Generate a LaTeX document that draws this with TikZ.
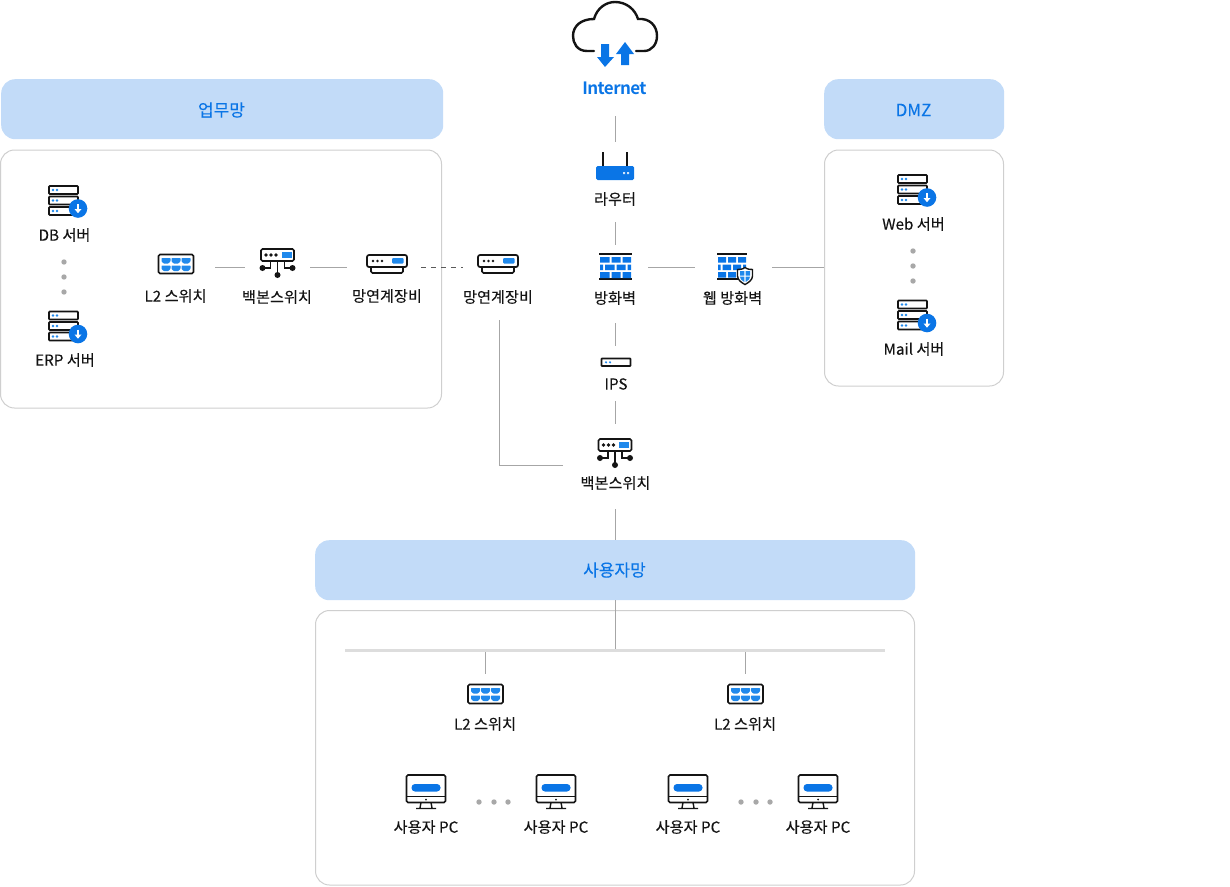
\documentclass[tikz,border=0pt]{standalone}
\usepackage{fontspec}
\setmainfont[FakeBold=0.12]{Noto Sans CJK KR}
\newfontfamily\inetfont[LetterSpace=-3.5]{Noto Sans CJK KR Bold}
\usetikzlibrary{calc}
\definecolor{bl}{HTML}{0A75E6}
\definecolor{hd}{HTML}{C2DBF8}
\definecolor{bd}{HTML}{CFCFCF}
\definecolor{cn}{HTML}{A6A6A6}
\definecolor{dt}{HTML}{A8A8A8}
\definecolor{ink}{HTML}{141414}
\definecolor{sb}{HTML}{2089EC}
\tikzset{
 x=1pt,y=-1pt,
 header/.style={draw=none,fill=hd,rounded corners=14pt},
 panel/.style={draw=bd,line width=1pt,fill=white,rounded corners=14pt},
 conn/.style={draw=cn,line width=1pt},
 hdtxt/.style={text=bl,font=\fontsize{17}{20}\selectfont,inner sep=0pt},
 lab/.style={text=ink,font=\fontsize{15.2}{18}\selectfont,inner sep=0pt},
 ic/.style={draw=ink,line width=1.7pt,fill=white},
 gdot/.style={fill=dt,draw=none},
 pics/server/.style={code={
  \foreach \yy in {-14.5,-4,6.5}{
   \draw[ic,rounded corners=0.8pt] (-15,\yy) rectangle (14,\yy+8);
   \fill[sb] (-11,\yy+4) circle (1.3) (-7,\yy+4) circle (1.3);
  }
  \fill[bl] (14,8) circle (9.3);
  \draw[white,line width=1.8pt] (14,3.5) -- (14,9);
  \fill[white] (10.5,8.5) -- (17.5,8.5) -- (14,12.7) -- cycle;
 }},
 pics/lswitch/.style={code={
  \draw[ic,rounded corners=1.5pt] (-17.5,-9.5) rectangle (17.5,9.5);
  \foreach \xx in {-14.5,-4.5,5.5}{
   \foreach \yy in {-6,1.5}{
    \fill[sb,rounded corners=0.6pt] (\xx,\yy) -- (\xx+9,\yy) -- (\xx+9,\yy+3.2) -- (\xx+7,\yy+5.5) -- (\xx+2,\yy+5.5) -- (\xx,\yy+3.2) -- cycle;
   }
  }
 }},
 pics/backbone/.style={code={
  \draw[ink,line width=1.6pt] (0,6) -- (0,20);
  \draw[ink,line width=1.6pt] (-7,6) -- (-7,13) -- (-15,13);
  \draw[ink,line width=1.6pt] (7,6) -- (7,13) -- (15,13);
  \fill[ink] (0,20) circle (3) (-15,13) circle (3) (15,13) circle (3);
  \draw[ic,rounded corners=1.5pt] (-16.5,-6) rectangle (16.5,6);
  \fill[ink] (-11.5,0) circle (1.9) (-6.5,0) circle (1.9) (-1.5,0) circle (1.9);
  \fill[sb] (4,-3) rectangle (14,2.5);
 }},
 pics/gateway/.style={code={
  \draw[ic,rounded corners=1.5pt] (-16,5) -- (-16,12) -- (16,12) -- (16,5);
  \draw[ic,rounded corners=2pt] (-20,-6) rectangle (20,6);
  \fill[ink] (-14,0) circle (1.4) (-9.5,0) circle (1.4) (-5,0) circle (1.4);
  \fill[sb,rounded corners=1pt] (5,-3) rectangle (16.5,2.5);
 }},
 pics/brick/.style={code={
  \draw[ink,line width=2pt] (-16.5,-13) -- (16.5,-13) (-16.5,12) -- (16.5,12);
  \fill[bl] (-15.5,-10) rectangle (-6,-4.5) (-4,-10) rectangle (5,-4.5) (7,-10) rectangle (15.5,-4.5);
  \fill[bl] (-15.5,-2.5) rectangle (-12.5,3) (-10.5,-2.5) rectangle (-1,3) (1,-2.5) rectangle (10,3) (12,-2.5) rectangle (15.5,3);
  \fill[bl] (-15.5,5) rectangle (-6,11) (-4,5) rectangle (5,11) (7,5) rectangle (15.5,11);
 }},
 pics/wbrick/.style={code={
  \draw[ink,line width=2pt] (-15,-13) -- (15,-13) (-15,12) -- (7,12);
  \fill[bl] (-14,-10) rectangle (-6,-4.5) (-4,-10) rectangle (4,-4.5) (6,-10) rectangle (14,-4.5);
  \fill[bl] (-14,-2.5) rectangle (-11.5,3) (-9.5,-2.5) rectangle (-1,3) (1,-2.5) rectangle (9,3) (11,-2.5) rectangle (14,3);
  \fill[bl] (-14,5) rectangle (-6,10.5) (-4,5) rectangle (4,10.5);
  \draw[ink,line width=1.4pt,fill=white] (13,0.5) .. controls (16,2.5) and (18,2.5) .. (20.5,2.5) -- (20.5,9) .. controls (20.5,13) and (16,16) .. (13,17.5) .. controls (10,16) and (5.5,13) .. (5.5,9) -- (5.5,2.5) .. controls (8,2.5) and (10,2.5) .. (13,0.5) -- cycle;
  \fill[sb] (8,4) rectangle (12.3,8.5) (13.7,4) rectangle (18,8.5) (8,9.7) -- (12.3,9.7) -- (12.3,15) -- (9,12.5) -- cycle (13.7,9.7) -- (18,9.7) -- (17,12.5) -- (13.7,15) -- cycle;
 }},
 pics/pcicon/.style={code={
  \draw[ink,line width=1.4pt] (-5,14) -- (-6,19.5) (5,14) -- (6,19.5) (-10,20) -- (10,20);
  \draw[ic,rounded corners=1.5pt] (-19.5,-13.5) rectangle (19.5,14);
  \draw[ink,line width=1.3pt] (-19.5,8) -- (19.5,8);
  \fill[ink] (0,11) circle (1);
  \fill[bl,rounded corners=3.5pt] (-14.5,-4.5) rectangle (14.5,3);
 }},
}
\begin{document}
\begin{tikzpicture}
\useasboundingbox (0,0) rectangle (1230,886);
% panels
\draw[panel] (0.5,150) rectangle (441.5,408);
\draw[panel] (824.5,150) rectangle (1003.5,386);
\draw[panel] (315.5,610.5) rectangle (914.5,885);
\node[header,minimum width=442pt,minimum height=60pt,anchor=north west,inner sep=0pt] (hWork) at (1,79) {};
\node[header,minimum width=180pt,minimum height=60pt,anchor=north west,inner sep=0pt] (hDmz) at (824,79) {};
\node[header,minimum width=600pt,minimum height=60pt,anchor=north west,inner sep=0pt] (hUser) at (315,540) {};
\node[hdtxt] at (221.5,110) {업무망};
\node[hdtxt] at (913.5,110) {DMZ};
\node[hdtxt] at (614.5,570) {사용자망};
% cloud
\draw[ink,line width=2.4pt,line cap=round] (594,51) -- (587,51) .. controls (577,51) and (573,43) .. (573,36) .. controls (573,26) and (581,19) .. (594,19) .. controls (597,8) and (606,2) .. (615,2) .. controls (626,2) and (635,9) .. (638,19) .. controls (650,18) and (657,26) .. (657,36) .. controls (657,44) and (652,51) .. (644,51) -- (636,51);
\fill[bl] (601,44) -- (609,44) -- (609,57) -- (614,57) -- (605,67) -- (597,57) -- (601,57) -- cycle;
\fill[bl] (625,42) -- (634,54) -- (629,54) -- (629,65) -- (621,65) -- (621,54) -- (616,54) -- cycle;
\node[inner sep=0pt,text=bl,font=\fontsize{17}{20}\selectfont\inetfont] (inet) at (614.5,88) {Internet};
% icons
\pic at (64,200.5) {server};
\pic at (64,326) {server};
\pic at (913,189.5) {server};
\pic at (913,315) {server};
\pic at (176,264) {lswitch};
\pic at (277.5,255) {backbone};
\pic at (387,261) {gateway};
\pic at (498,261) {gateway};
\pic at (615,445) {backbone};
\pic at (485.5,694) {lswitch};
\pic at (745.5,694) {lswitch};
% router
\draw[ink,line width=1.5pt] (603,152) -- (603,166) (627,152) -- (627,166);
\fill[bl,rounded corners=1.5pt] (596,166) rectangle (634,180);
\fill[white!80!bl] (623,172) rectangle (625,174) (627,172) rectangle (629,174);
\pic at (615.5,267) {brick};
\pic at (732,267) {wbrick};
% IPS
\draw[ic,rounded corners=0.6pt] (601.5,358.5) rectangle (630.5,366);
\fill[sb] (606,362.3) circle (1.2) (610,362.3) circle (1.2);
% PCs
\pic at (426,788.5) {pcicon};
\pic at (556,788.5) {pcicon};
\pic at (688,788.5) {pcicon};
\pic at (818,788.5) {pcicon};
% dots
\foreach \p in {(64,262),(64,277),(64,292),(913,251),(913,266),(913,281),(479,802),(494,802),(508,802),(741,802),(756,802),(770,802)}
 \fill[gdot] \p circle (2.7);
% labels
\node[lab] (db) at (64.5,235) {DB 서버};
\node[lab] (erp) at (65,360) {ERP 서버};
\node[lab] (l2a) at (175.5,296) {L2 스위치};
\node[lab] (bb1) at (277,297) {백본스위치};
\node[lab] (gw1) at (387,296) {망연계장비};
\node[lab] (gw2) at (498,297) {망연계장비};
\node[lab] (rt) at (615,199) {라우터};
\node[lab] (fw) at (615,298) {방화벽};
\node[lab] (wfw) at (732.5,298) {웹 방화벽};
\node[lab] (ips) at (616,384) {IPS};
\node[lab] (bb2) at (615.5,483) {백본스위치};
\node[lab] (web) at (913.5,224) {Web 서버};
\node[lab] (mail) at (914,349) {Mail 서버};
\node[lab] (l2b) at (485,724) {L2 스위치};
\node[lab] (l2c) at (745,724) {L2 스위치};
\node[lab] (pc1) at (426,827) {사용자 PC};
\node[lab] (pc2) at (556,827) {사용자 PC};
\node[lab] (pc3) at (688,827) {사용자 PC};
\node[lab] (pc4) at (818,827) {사용자 PC};
% connector ends
\coordinate (a1) at (615.5,116); \coordinate (a2) at (615.5,142);
\coordinate (b1) at (615.5,222); \coordinate (b2) at (615.5,245);
\coordinate (c1) at (648,267); \coordinate (c2) at (695,267);
\coordinate (d1) at (772,267); \coordinate (d2) at (824,267);
\coordinate (e1) at (615.5,323); \coordinate (e2) at (615.5,346);
\coordinate (f1) at (615.5,401); \coordinate (f2) at (615.5,424);
\coordinate (g1) at (563,465.5); \coordinate (g2) at (499.5,465.5); \coordinate (g3) at (499.5,320);
\coordinate (h1) at (615.5,509); \coordinate (h2) at (615.5,540);
\coordinate (i1) at (615.5,600); \coordinate (i2) at (615.5,650);
\coordinate (j1) at (345,650.5); \coordinate (j2) at (885,650.5);
\coordinate (k1) at (485.5,652); \coordinate (k2) at (485.5,674);
\coordinate (l1) at (745.5,652); \coordinate (l2) at (745.5,674);
\coordinate (m1) at (215,267); \coordinate (m2) at (245,267);
\coordinate (n1) at (310,267); \coordinate (n2) at (347,267);
\coordinate (o1) at (421,267); \coordinate (o2) at (463,267);
\draw[conn] (a1) -- (a2);
\draw[conn] (b1) -- (b2);
\draw[conn] (c1) -- (c2);
\draw[conn] (d1) -- (d2);
\draw[conn] (e1) -- (e2);
\draw[conn] (f1) -- (f2);
\draw[conn] (g1) -- (g2) -- (g3);
\draw[conn] (h1) -- (h2);
\draw[conn] (i1) -- (i2);
\draw[bd!70,line width=3pt] (j1) -- (j2);
\draw[conn] (k1) -- (k2);
\draw[conn] (l1) -- (l2);
\draw[conn] (m1) -- (m2);
\draw[conn] (n1) -- (n2);
\draw[draw=ink!70,line width=1pt,dash pattern=on 5pt off 5pt] (o1) -- (o2);
\end{tikzpicture}
\end{document}
